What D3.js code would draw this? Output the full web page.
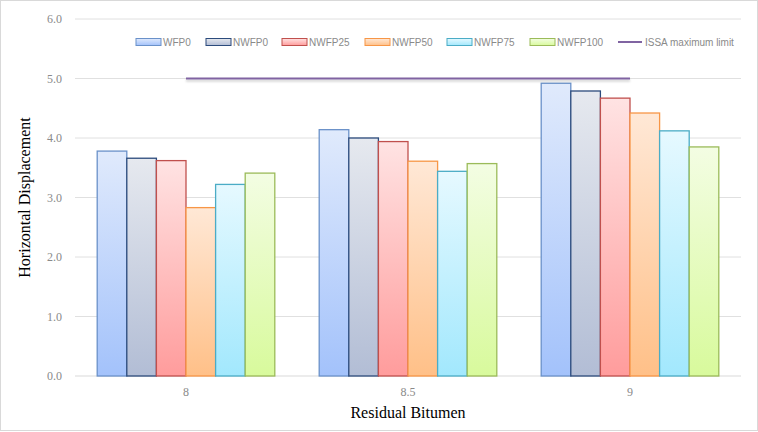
<!DOCTYPE html>
<html>
<head>
<meta charset="utf-8">
<script src="https://cdn.jsdelivr.net/npm/d3@7"></script>
<style>
  body { margin: 0; background: #fff; }
  svg { display: block; }
</style>
</head>
<body>
<svg id="svg" width="758" height="432"></svg>
<script>
// data
const categories = ["8", "8.5", "9"];
const seriesNames = ["WFP0", "NWFP0", "NWFP25", "NWFP50", "NWFP75", "NWFP100"];
const WFP0 = [3.78, 4.14, 4.92];
const NWFP0 = [3.66, 4.00, 4.79];
const NWFP25 = [3.62, 3.94, 4.67];
const NWFP50 = [2.83, 3.61, 4.42];
const NWFP75 = [3.22, 3.44, 4.12];
const NWFP100 = [3.41, 3.57, 3.85];
const issaLimit = [5.0, 5.0, 5.0];
const yTicks = [0, 1, 2, 3, 4, 5, 6];

const seriesValues = [WFP0, NWFP0, NWFP25, NWFP50, NWFP75, NWFP100];

// colours: [top, bottom, stroke]
const colors = [
    ["#e0eafc", "#a3c2fb", "#6a91c9"],
    ["#e6e9ef", "#b2bdd5", "#2c4b7c"],
    ["#ffe3e3", "#ff9c9c", "#c0504d"],
    ["#ffe8d6", "#ffc088", "#f79646"],
    ["#e6f9ff", "#a2e8fd", "#4bacc6"],
    ["#f3fde3", "#d8fa9c", "#9bbb59"]
];
const lineColor = "#8064a2";

var svg = d3.select("#svg"),
    margin = {top: 19, right: 17, bottom: 56, left: 75},
    width = +svg.attr("width") - margin.left - margin.right,
    height = +svg.attr("height") - margin.top - margin.bottom;

// outer border
svg.append("rect")
    .attr("x", 0.5).attr("y", 0.5)
    .attr("width", 757).attr("height", 430)
    .attr("fill", "#fff")
    .attr("stroke", "#d9d9d9");

const defs = svg.append("defs");
colors.forEach((c, i) => {
    var g = defs.append("linearGradient")
        .attr("id", "grad" + i)
        .attr("x1", 0).attr("y1", 0).attr("x2", 0).attr("y2", 1);
    g.append("stop").attr("offset", 0).attr("stop-color", c[0]);
    g.append("stop").attr("offset", 1).attr("stop-color", c[1]);
});
// line shadow (user space, since the path has zero height)
var shadow = defs.append("filter").attr("id", "shadow")
    .attr("filterUnits", "userSpaceOnUse")
    .attr("x", 0).attr("y", 0).attr("width", 758).attr("height", 432);
shadow.append("feDropShadow")
    .attr("dx", 0).attr("dy", 2).attr("stdDeviation", 1)
    .attr("flood-color", "#000").attr("flood-opacity", 0.2);

var x = d3.scaleBand().domain(categories).range([0, width]).paddingInner(0.2).paddingOuter(0.1);
var xs = d3.scaleBand().domain(seriesNames).range([0, x.bandwidth()]);
var y = d3.scaleLinear().domain([0, 6]).range([height, 0]);

var g = svg.append("g").attr("transform", "translate(" + margin.left + "," + margin.top + ")");

// gridlines
g.append("g")
    .selectAll("line")
    .data(yTicks)
    .join("line")
    .attr("x1", 0).attr("x2", width)
    .attr("y1", d => y(d)).attr("y2", d => y(d))
    .attr("stroke", d => d === 0 ? "#d9d9d9" : "#e0e0e0")
    .attr("stroke-width", 1);

// y labels
g.append("g")
    .selectAll("text")
    .data(yTicks)
    .join("text")
    .attr("x", -13)
    .attr("y", d => y(d))
    .attr("dy", "0.35em")
    .attr("text-anchor", "end")
    .style("font-family", "'Liberation Serif', 'Times New Roman', serif")
    .style("font-size", "12px")
    .style("fill", "#8a8a8a")
    .text(d => d.toFixed(1));

// x labels
g.append("g")
    .selectAll("text")
    .data(categories)
    .join("text")
    .attr("x", d => x(d) + x.bandwidth() / 2)
    .attr("y", height + 20)
    .attr("text-anchor", "middle")
    .style("font-family", "'Liberation Serif', 'Times New Roman', serif")
    .style("font-size", "12px")
    .style("fill", "#8a8a8a")
    .text(d => d);

// bars
var groups = g.append("g")
    .selectAll("g")
    .data(categories)
    .join("g")
    .attr("transform", d => "translate(" + x(d) + ",0)");

groups.selectAll("rect")
    .data((d, ci) => seriesNames.map((s, si) => ({s: s, si: si, v: seriesValues[si][ci]})))
    .join("rect")
    .attr("x", d => xs(d.s))
    .attr("y", d => y(d.v))
    .attr("width", xs.bandwidth())
    .attr("height", d => y(0) - y(d.v))
    .attr("fill", d => "url(#grad" + d.si + ")")
    .attr("stroke", d => colors[d.si][2])
    .attr("stroke-width", 1.3);

// ISSA line
var line = d3.line()
    .x((d, i) => x(categories[i]) + x.bandwidth() / 2)
    .y(d => y(d));

g.append("path")
    .datum(issaLimit)
    .attr("d", line)
    .attr("fill", "none")
    .attr("stroke", lineColor)
    .attr("stroke-width", 2.2)
    .attr("filter", "url(#shadow)");

// axis titles
svg.append("text")
    .attr("transform", "translate(24," + (margin.top + height / 2) + ") rotate(-90)")
    .attr("text-anchor", "middle")
    .attr("dy", "0.35em")
    .style("font-family", "'Liberation Serif', 'Times New Roman', serif")
    .style("font-size", "16px")
    .style("fill", "#000")
    .text("Horizontal Displacement");

svg.append("text")
    .attr("x", margin.left + width / 2)
    .attr("y", 418)
    .attr("text-anchor", "middle")
    .style("font-family", "'Liberation Serif', 'Times New Roman', serif")
    .style("font-size", "16px")
    .style("fill", "#000")
    .text("Residual Bitumen");

// legend
const legendX = [136, 206, 282, 365, 447, 530];
const legendY = 42;
var legend = svg.append("g");
seriesNames.forEach((s, i) => {
    legend.append("rect")
        .attr("x", legendX[i]).attr("y", legendY - 3.5)
        .attr("width", 25).attr("height", 7)
        .attr("fill", "url(#grad" + i + ")")
        .attr("stroke", colors[i][2])
        .attr("stroke-width", 1);
    legend.append("text")
        .attr("x", legendX[i] + 27).attr("y", legendY)
        .attr("dy", "0.35em")
        .style("font-family", "'Liberation Sans', Arial, sans-serif")
        .style("font-size", "10px")
        .style("fill", "#8a8a8a")
        .text(s);
});
legend.append("line")
    .attr("x1", 618).attr("x2", 642)
    .attr("y1", legendY).attr("y2", legendY)
    .attr("stroke", lineColor)
    .attr("stroke-width", 2);
legend.append("text")
    .attr("x", 645).attr("y", legendY)
    .attr("dy", "0.35em")
    .style("font-family", "'Liberation Sans', Arial, sans-serif")
    .style("font-size", "10px")
    .style("fill", "#8a8a8a")
    .text("ISSA maximum limit");
</script>
</body>
</html>
